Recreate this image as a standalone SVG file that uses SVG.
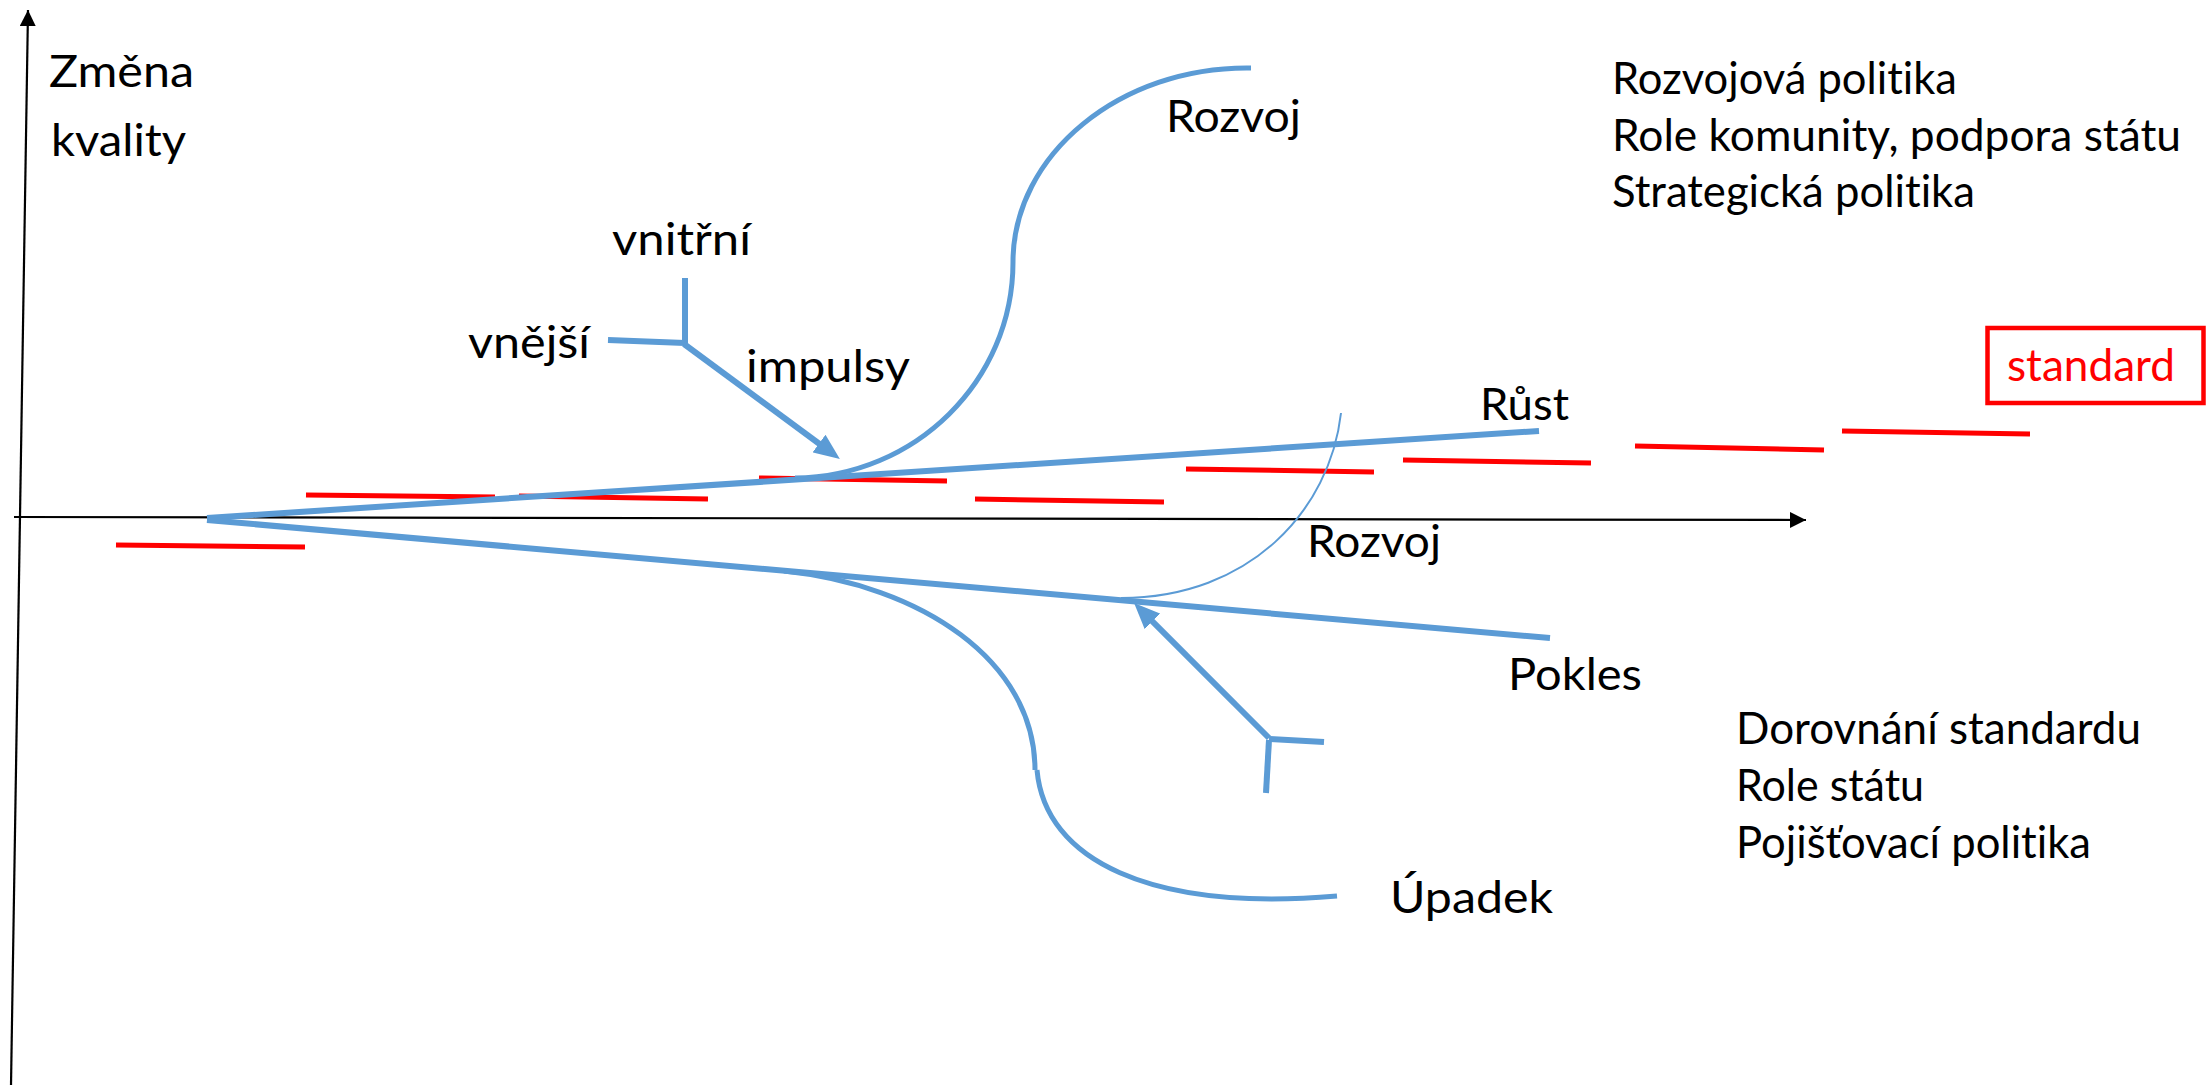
<svg xmlns="http://www.w3.org/2000/svg" width="2208" height="1085" viewBox="0 0 2208 1085">
<style>
.t{font-family:"Lato","Liberation Sans",sans-serif;font-size:45px;fill:#000;font-variant-ligatures:none;font-feature-settings:"liga" 0}
.r{font-family:"Lato","Liberation Sans",sans-serif;font-size:45px;fill:#FF0000;font-variant-ligatures:none}
.ax{stroke:#000;stroke-width:2.2;fill:none}
.b{stroke:#5B9BD5;fill:none;stroke-linecap:butt}
.rd{stroke:#FF0000;stroke-width:5;fill:none}
</style>
<defs>
<marker id="axarr" markerUnits="userSpaceOnUse" markerWidth="16" markerHeight="16" refX="16" refY="8" orient="auto"><path d="M0,0 L16,8 L0,16 z" fill="#000"/></marker>
<marker id="barr" markerUnits="userSpaceOnUse" markerWidth="26" markerHeight="22" refX="10" refY="11" orient="auto"><path d="M0,0 L26,11 L0,22 z" fill="#5B9BD5"/></marker>
</defs>
<rect width="2208" height="1085" fill="#fff"/>
<g id="axes">
<line class="ax" x1="11" y1="1085" x2="28" y2="10" marker-end="url(#axarr)"/>
<line class="ax" x1="14" y1="517" x2="1806" y2="520" marker-end="url(#axarr)"/>
</g>
<g id="standard-line">
<line class="rd" x1="116" y1="545" x2="305" y2="547"/>
<line class="rd" x1="306" y1="495" x2="495" y2="497"/>
<line class="rd" x1="519" y1="496" x2="708" y2="499"/>
<line class="rd" x1="759" y1="478" x2="947" y2="481"/>
<line class="rd" x1="975" y1="499" x2="1164" y2="502"/>
<line class="rd" x1="1186" y1="469" x2="1374" y2="472"/>
<line class="rd" x1="1403" y1="460" x2="1591" y2="463"/>
<line class="rd" x1="1635" y1="446" x2="1824" y2="450"/>
<line class="rd" x1="1842" y1="431" x2="2030" y2="434"/>
</g>
<g id="connectors">
<line class="b" stroke-width="6" x1="207" y1="518" x2="1539" y2="431"/>
<line class="b" stroke-width="6" x1="207" y1="520" x2="1550" y2="638"/>
<path class="b" stroke-width="5" d="M795 478 C915 477 1013 381 1013 262 C1013 155 1120 66 1251 68"/>
<path class="b" stroke-width="5" d="M784 571 C920 585 1035 660 1035 770"/>
<path class="b" stroke-width="5" d="M1037 770 C1045 860 1150 912 1337 896"/>
<path class="b" stroke-width="2" d="M1341 413 C1330 510 1250 598 1121 598"/>
<line class="b" stroke-width="6" x1="608" y1="340" x2="685" y2="343"/>
<line class="b" stroke-width="6" x1="685" y1="278" x2="685" y2="344"/>
<line class="b" stroke-width="6" x1="684" y1="344" x2="827" y2="449.5" marker-end="url(#barr)"/>
<line class="b" stroke-width="6" x1="1269" y1="739" x2="1324" y2="742"/>
<line class="b" stroke-width="6" x1="1269" y1="740" x2="1266" y2="793"/>
<line class="b" stroke-width="6" x1="1269" y1="738" x2="1145.4" y2="614.3" marker-end="url(#barr)"/>
</g>
<g id="label-zmena"><text class="t" x="49" y="87" textLength="145" lengthAdjust="spacingAndGlyphs">Změna</text><text class="t" x="51" y="156" textLength="135" lengthAdjust="spacingAndGlyphs">kvality</text></g>
<g id="label-vnitrni"><text class="t" x="612" y="255" textLength="139" lengthAdjust="spacingAndGlyphs">vnitřní</text></g>
<g id="label-vnejsi"><text class="t" x="468" y="358" textLength="122" lengthAdjust="spacingAndGlyphs">vnější</text></g>
<g id="label-impulsy"><text class="t" x="746" y="382" textLength="164" lengthAdjust="spacingAndGlyphs">impulsy</text></g>
<g id="label-rozvoj-top"><text class="t" x="1166" y="132" textLength="135" lengthAdjust="spacingAndGlyphs">Rozvoj</text></g>
<g id="label-rust"><text class="t" x="1480" y="420" textLength="89" lengthAdjust="spacingAndGlyphs">Růst</text></g>
<g id="label-rozvoj-mid"><text class="t" x="1307" y="557" textLength="134" lengthAdjust="spacingAndGlyphs">Rozvoj</text></g>
<g id="label-pokles"><text class="t" x="1508" y="690" textLength="134" lengthAdjust="spacingAndGlyphs">Pokles</text></g>
<g id="label-upadek"><text class="t" x="1390" y="913" textLength="163" lengthAdjust="spacingAndGlyphs">Úpadek</text></g>
<g id="policy-top">
<text class="t" x="1612" y="94" textLength="345" lengthAdjust="spacingAndGlyphs">Rozvojová politika</text>
<text class="t" x="1612" y="151" textLength="569" lengthAdjust="spacingAndGlyphs">Role komunity, podpora státu</text>
<text class="t" x="1612" y="207" textLength="363" lengthAdjust="spacingAndGlyphs">Strategická politika</text>
</g>
<g id="policy-bottom">
<text class="t" x="1736" y="744" textLength="405" lengthAdjust="spacingAndGlyphs">Dorovnání standardu</text>
<text class="t" x="1736" y="801" textLength="188" lengthAdjust="spacingAndGlyphs">Role státu</text>
<text class="t" x="1736" y="858" textLength="355" lengthAdjust="spacingAndGlyphs">Pojišťovací politika</text>
</g>
<g id="standard-box">
<rect x="1987.5" y="328" width="216" height="75" fill="none" stroke="#FF0000" stroke-width="4.5"/>
<text class="r" x="2007" y="381" textLength="168" lengthAdjust="spacingAndGlyphs">standard</text>
</g>
</svg>
